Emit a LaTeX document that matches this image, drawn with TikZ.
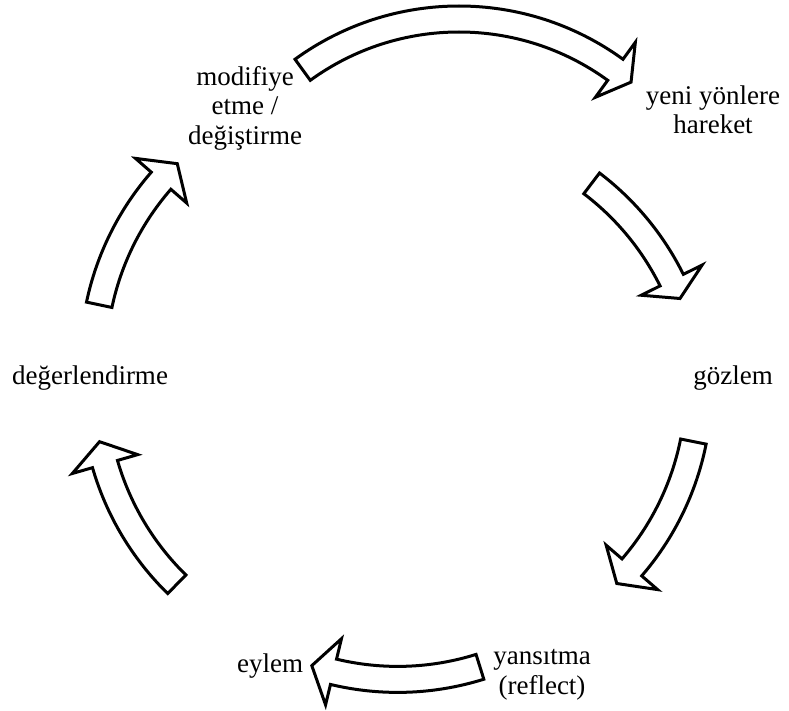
\documentclass[tikz,border=0pt]{standalone}
\usepackage{fontspec}
\setmainfont{Liberation Serif}
\newcommand\cycarrow[5]{% center, R, tail angle, head base angle, tip angle
  \begin{scope}[shift={#1}]
    \draw[blockarrow] (#3:{#2+13}) arc[start angle=#3, end angle=#4, radius={#2+13}]
      -- (#4:{#2+34}) -- (#5:#2) -- (#4:{#2-34}) -- (#4:{#2-13})
      arc[start angle=#4, end angle=#3, radius={#2-13}] -- cycle;
  \end{scope}}
\begin{document}
\begin{tikzpicture}[x=1pt,y=1pt,
  blockarrow/.style={draw=black, line width=3pt, fill=white, line join=miter},
  lbl/.style={font=\fontsize{27}{29.5}\selectfont, align=center, inner sep=0pt}]
\useasboundingbox (0,0) rectangle (789,-711);
% arrows
\cycarrow{(459,-285)}{266}{126}{54}{49.7}
\cycarrow{(425.4,-402.4)}{275}{52.8}{26.4}{22.2}
\cycarrow{(423.7,-387.7)}{275}{-11.3}{-40.8}{-45.4}
\cycarrow{(397.7,-404.4)}{275}{-72.6}{-103.5}{-108.2}
\cycarrow{(369.2,-387.8)}{275}{-134.4}{-163.9}{-168.7}
\cycarrow{(368.3,-361.5)}{275}{168.1}{138.9}{134.0}
% labels
\node[lbl] (mod) at (245,-108) {modifiye\\etme /\\değiştirme};
\node[lbl] (yeni) at (713,-110) {yeni yönlere\\hareket};
\node[lbl, anchor=base] (goz) at (733,-384) {gözlem};
\node[lbl, anchor=base] (deg) at (90,-384) {değerlendirme};
\node[lbl] (yan) at (542,-675) {yansıtma\\(reflect)};
\node[lbl, anchor=base] (eyl) at (270,-672) {eylem};
\end{tikzpicture}
\end{document}
